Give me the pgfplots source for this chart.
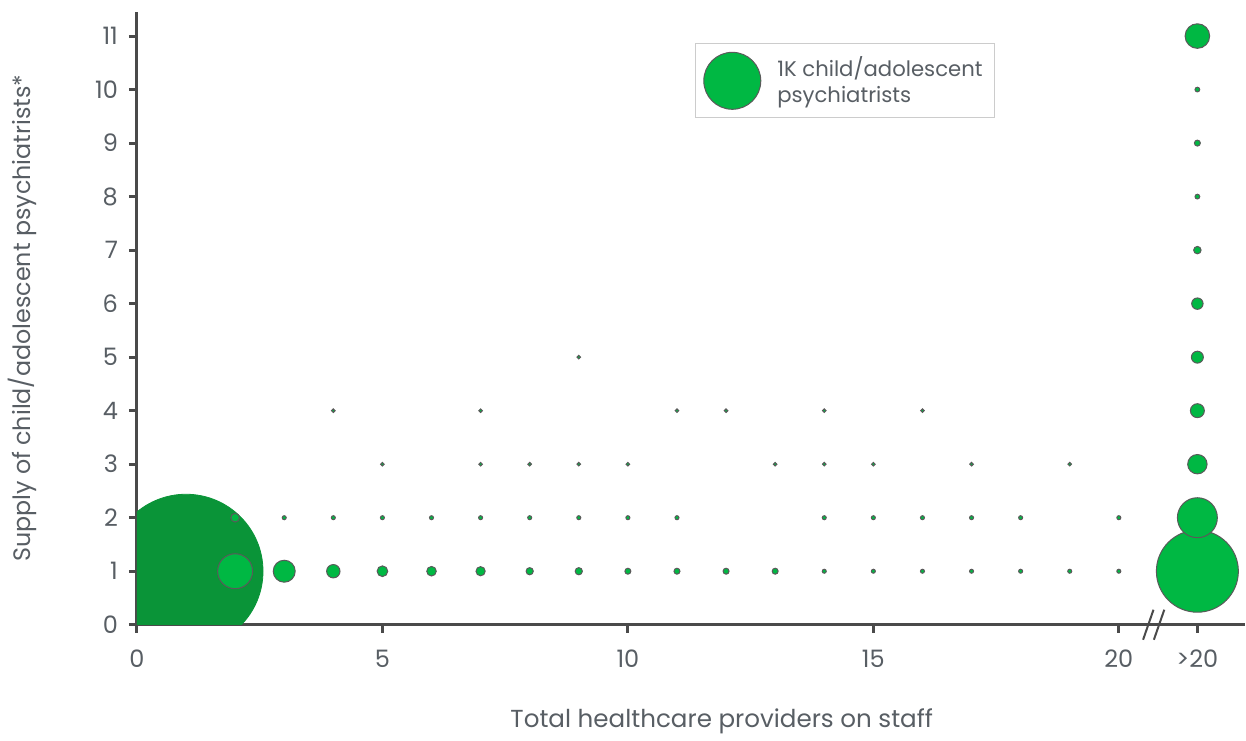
\documentclass[border=0pt]{standalone}
\usepackage{pgfplots}
\pgfplotsset{compat=1.18}
\usepackage{pgfplotstable}
\usepackage{fontspec}
\setmainfont{Poppins}
\definecolor{bubble}{HTML}{00B843}
\definecolor{bigbubble}{HTML}{0A9438}
\definecolor{edge}{HTML}{5A5A5A}
\definecolor{axisgray}{HTML}{4A4A4A}
\definecolor{txt}{HTML}{585E64}

% x y n  (n = number of psychiatrists; bubble area ~ n)
\pgfplotstableread{
x y n
1 1 7300
}\bigone
\pgfplotstableread{
x y n
21.6 1 2070
21.6 2 492
2 1 377
21.6 11 186
3 1 149
21.6 3 116
21.6 4 60
4 1 55
21.6 5 44
21.6 6 40
5 1 35
6 1 28
7 1 26
2 2 23
8 1 16
9 1 16
21.6 7 17
10 1 11
11 1 11
12 1 11
13 1 11
21.6 9 11
21.6 8 7
21.6 10 7
14 1 5
15 1 5
16 1 5
17 1 5
18 1 5
19 1 5
20 1 5
3 2 5
4 2 5
5 2 5
6 2 5
7 2 5
8 2 5
9 2 5
10 2 5
11 2 5
14 2 5
15 2 5
16 2 5
17 2 5
18 2 5
20 2 5
5 3 4
7 3 4
8 3 4
9 3 4
10 3 4
13 3 4
14 3 4
15 3 4
17 3 4
19 3 4
4 4 4
7 4 4
11 4 4
12 4 4
14 4 4
16 4 4
9 5 4
}\bubbles

\begin{document}
\begin{tikzpicture}
\begin{axis}[
    scale only axis,
    width=554pt, height=306.5pt,
    xmin=0, xmax=22.56, ymin=0, ymax=11.45,
    axis x line=bottom, axis y line=left,
    axis line style={axisgray, line width=1.5pt, -},
    every tick/.style={axisgray, line width=1.5pt},
    tick align=outside, major tick length=4pt,
    xtick={0,5,10,15,20,21.6},
    xticklabels={0,5,10,15,20,{>20}},
    ytick={0,1,...,11},
    /pgf/number format/assume math mode=true,
    tick label style={font=\fontsize{12}{14}\selectfont, text=txt},
    xticklabel style={yshift=-5pt},
    yticklabel style={xshift=-2pt},
    xlabel={Total healthcare providers on staff},
    ylabel={Supply of child/adolescent psychiatrists*},
    every axis x label/.style={at={(axis description cs:0.528,-0.158)}, anchor=center,
        font=\fontsize{12.3}{14}\selectfont, text=txt},
    every axis y label/.style={at={(axis description cs:-0.1038,0.5)}, anchor=center, rotate=90,
        font=\fontsize{11.9}{14}\selectfont, text=txt},
    clip=true, clip marker paths=true,
    visualization depends on={0.4506*sqrt(\thisrow{n}) \as \rad},
    legend style={at={(axis description cs:0.5036,0.949)}, anchor=north west,
        draw=gray!40, line width=0.6pt, inner xsep=4pt, inner ysep=4pt,
        font=\fontsize{10.6}{13}\selectfont, text=txt,
        /tikz/every odd column/.style={column sep=6pt}},
    legend cell align=left,
]
\addplot[scatter, only marks, mark=*,
    scatter/use mapped color={draw=bigbubble, fill=bigbubble},
    scatter/@pre marker code/.append style={/tikz/mark size=\rad pt},
    forget plot] table[x=x, y=y] {\bigone};
\addplot[scatter, only marks, mark=*,
    scatter/use mapped color={draw=edge, fill=bubble},
    scatter/@pre marker code/.append style={/tikz/mark size=\rad pt},
    mark options={line width=0.5pt},
    forget plot] table[x=x, y=y] {\bubbles};
\addlegendimage{legend image code/.code={
    \draw[fill=bubble, draw=edge, line width=0.5pt] (14.25pt,0pt) circle (14.25pt);}}
\addlegendentry[align=left]{1K child/adolescent\\psychiatrists}
\coordinate (b1a) at (axis cs:20.6,0);
\coordinate (b2a) at (axis cs:20.82,0);
\end{axis}
\draw[axisgray, line width=1pt] ([shift={(-2.6pt,-7.5pt)}]b1a) -- ([shift={(2.6pt,7.5pt)}]b1a);
\draw[axisgray, line width=1pt] ([shift={(-2.6pt,-7.5pt)}]b2a) -- ([shift={(2.6pt,7.5pt)}]b2a);
\path (-68.5pt,-56.5pt) rectangle (554.5pt,312.5pt);
\end{tikzpicture}
\end{document}
